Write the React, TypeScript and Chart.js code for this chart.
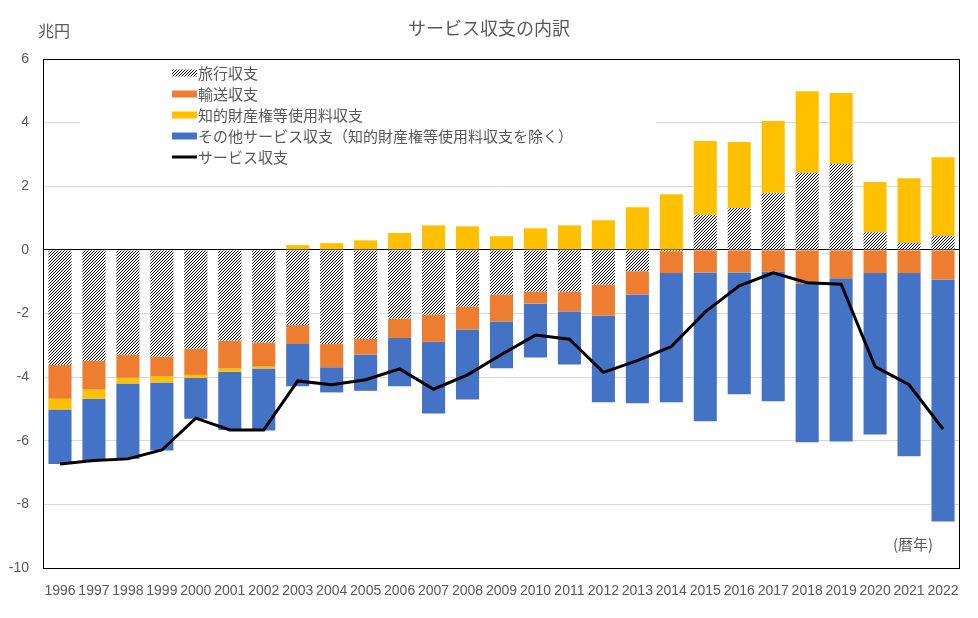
import { useEffect, useRef } from 'react';
import { Chart, registerables } from 'chart.js';

Chart.register(...registerables);

const years = ['1996', '1997', '1998', '1999', '2000', '2001', '2002', '2003', '2004', '2005', '2006', '2007', '2008', '2009', '2010', '2011', '2012', '2013', '2014', '2015', '2016', '2017', '2018', '2019', '2020', '2021', '2022'];

// 兆円
const travel = [-3.61, -3.48, -3.29, -3.35, -3.10, -2.85, -2.91, -2.36, -2.96, -2.79, -2.16, -2.03, -1.78, -1.40, -1.31, -1.31, -1.09, -0.67, -0.04, 1.09, 1.32, 1.78, 2.42, 2.70, 0.55, 0.22, 0.44];
const transport = [-1.07, -0.91, -0.73, -0.63, -0.83, -0.88, -0.76, -0.60, -0.73, -0.50, -0.61, -0.86, -0.72, -0.85, -0.38, -0.63, -0.97, -0.73, -0.69, -0.71, -0.71, -0.69, -1.07, -0.89, -0.73, -0.73, -0.93];
const ipCharges = [-0.34, -0.29, -0.18, -0.19, -0.09, -0.10, -0.06, 0.15, 0.21, 0.30, 0.53, 0.77, 0.74, 0.43, 0.68, 0.77, 0.93, 1.34, 1.75, 2.33, 2.07, 2.27, 2.57, 2.23, 1.58, 2.03, 2.47];
const otherServices = [-1.71, -1.93, -2.37, -2.14, -1.29, -1.83, -1.95, -1.33, -0.79, -1.14, -1.52, -2.25, -2.20, -1.47, -1.69, -1.66, -2.73, -3.42, -4.06, -4.68, -3.83, -4.07, -4.98, -5.13, -5.07, -5.76, -7.61];
const servicesTotal = [-6.73, -6.62, -6.57, -6.29, -5.29, -5.66, -5.66, -4.12, -4.24, -4.08, -3.74, -4.38, -3.93, -3.29, -2.68, -2.81, -3.85, -3.48, -3.04, -1.95, -1.13, -0.72, -1.03, -1.08, -3.67, -4.24, -5.63];

const yTicks = [6, 4, 2, 0, -2, -4, -6, -8, -10];

const GRAY = '#595959';
const JP = '"Noto Sans CJK JP", sans-serif';

// diagonal "///" hatch, 3px period, drawn pixel by pixel so it stays crisp
function makeHatch(): CanvasPattern | string {
  const n = 3;
  const c = document.createElement('canvas');
  c.width = n;
  c.height = n;
  const g = c.getContext('2d');
  if (!g) return '#000';
  g.fillStyle = '#fff';
  g.fillRect(0, 0, n, n);
  g.fillStyle = '#000';
  for (let x = 0; x < n; x++) {
    for (let y = 0; y < n; y++) {
      if ((x + y) % n === n - 1) g.fillRect(x, y, 1, 1);
    }
  }
  return g.createPattern(c, 'repeat') ?? '#000';
}

const overlay = {
  id: 'overlay',
  afterDraw(chart: any) {
    const { ctx, chartArea: a } = chart;
    ctx.save();

    // plot frame
    ctx.strokeStyle = '#000';
    ctx.lineWidth = 1;
    ctx.strokeRect(Math.round(a.left) + 0.5, Math.round(a.top) + 0.5, Math.round(a.right - a.left) - 1, Math.round(a.bottom - a.top));

    // titles
    ctx.fillStyle = GRAY;
    ctx.textBaseline = 'middle';
    ctx.font = `18px ${JP}`;
    ctx.textAlign = 'center';
    ctx.fillText('サービス収支の内訳', 489, 28);
    ctx.textAlign = 'left';
    ctx.font = `16px ${JP}`;
    ctx.fillText('兆円', 38, 31);
    ctx.font = `15px ${JP}`;
    ctx.fillText('(暦年)', 893, 544);

    // legend
    ctx.fillStyle = '#fff';
    ctx.fillRect(80, 61, 576, 110);
    chart.data.datasets.forEach((ds: any, i: number) => {
      const y = 73 + i * 21;
      if (ds.type === 'line') {
        ctx.strokeStyle = ds.borderColor;
        ctx.lineWidth = 3;
        ctx.beginPath();
        ctx.moveTo(172, y);
        ctx.lineTo(197, y);
        ctx.stroke();
      } else {
        ctx.fillStyle = ds.backgroundColor;
        ctx.fillRect(172, y - 3.5, 25, 7);
      }
      ctx.fillStyle = GRAY;
      ctx.font = `15px ${JP}`;
      ctx.fillText(ds.label, 198, y);
    });
    ctx.restore();
  },
};

export default function App() {
  const canvasRef = useRef<HTMLCanvasElement | null>(null);

  useEffect(() => {
    document.body.style.margin = '0';
    if (!canvasRef.current) return;
    const ctx = canvasRef.current.getContext('2d');
    if (!ctx) return;
    const hatch = makeHatch();
    const bar = (label: string, data: number[], color: any) => ({
      type: 'bar' as const,
      label,
      data,
      backgroundColor: color,
      borderWidth: 0,
      stack: 'services',
      order: 1,
      categoryPercentage: 1,
      barPercentage: 0.68,
    });
    const chart = new Chart(ctx, {
      type: 'bar',
      data: {
        labels: years,
        datasets: [
          bar('旅行収支', travel, hatch),
          bar('輸送収支', transport, '#ED7D31'),
          bar('知的財産権等使用料収支', ipCharges, '#FFC000'),
          bar('その他サービス収支（知的財産権等使用料収支を除く）', otherServices, '#4472C4'),
          {
            type: 'line' as const,
            label: 'サービス収支',
            data: servicesTotal,
            borderColor: '#000',
            backgroundColor: '#000',
            borderWidth: 3,
            pointRadius: 0,
            tension: 0,
            stack: 'total',
            order: 0,
          } as any,
        ],
      },
      options: {
        animation: false,
        responsive: false,
        layout: { padding: { top: 59, right: 18, left: 0, bottom: 0 } },
        plugins: { legend: { display: false }, tooltip: { enabled: false }, title: { display: false } },
        scales: {
          x: {
            stacked: true,
            grid: { display: false, drawTicks: false },
            border: { display: false },
            ticks: {
              color: GRAY,
              font: { family: '"Liberation Sans", sans-serif', size: 14 },
              padding: 15,
              maxRotation: 0,
              autoSkip: false,
            },
            afterFit: (s: any) => { s.height = 50; },
          },
          y: {
            stacked: true,
            min: -10,
            max: 6,
            afterBuildTicks: (s: any) => { s.ticks = yTicks.map((v) => ({ value: v })); },
            grid: {
              drawTicks: false,
              color: (c: any) => (c.tick && c.tick.value === 0 ? '#000' : '#d9d9d9'),
            },
            border: { display: false },
            ticks: {
              color: GRAY,
              font: { family: '"Liberation Sans", sans-serif', size: 14 },
              padding: 14,
            },
            afterFit: (s: any) => { s.width = 43; },
          },
        },
      },
      plugins: [overlay],
    });
    return () => chart.destroy();
  }, []);

  return (
    <div style={{ width: 978, height: 618, background: '#fff' }}>
      <canvas ref={canvasRef} width={978} height={618} />
    </div>
  );
}
